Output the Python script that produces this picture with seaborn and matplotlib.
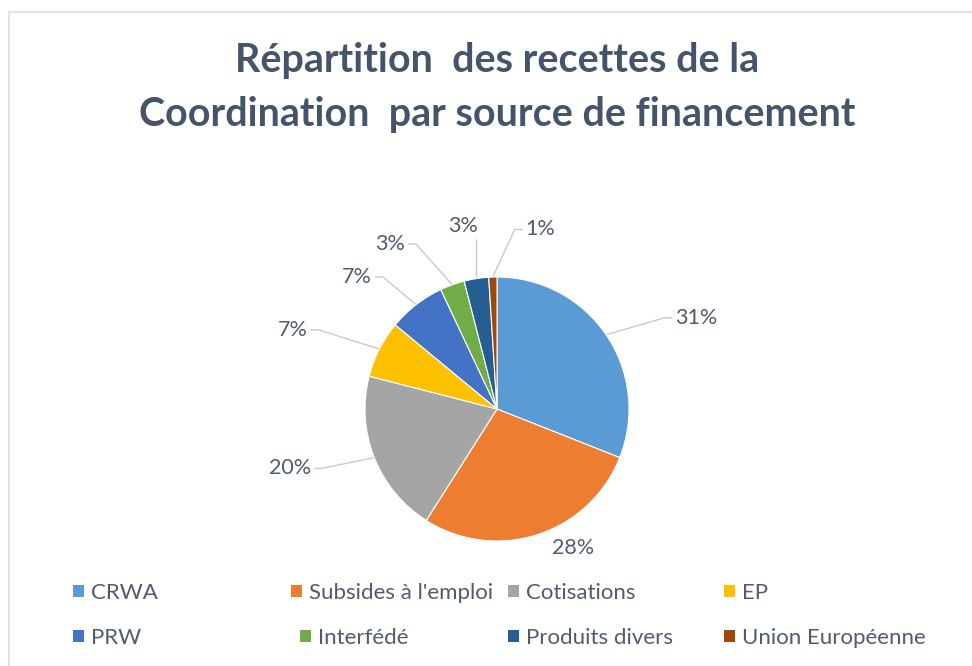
import matplotlib
matplotlib.use("Agg")
import matplotlib.pyplot as plt
from matplotlib.patches import Patch
from matplotlib.lines import Line2D
import numpy as np
import pandas as pd
import seaborn as sns

# ---------------- data ----------------
categories = ["CRWA", "Subsides à l'emploi", "Cotisations", "EP",
              "PRW", "Interfédé", "Produits divers", "Union Européenne"]
shares = [31, 28, 20, 7, 7, 3, 3, 1]
hex_colors = ["#5B9BD5", "#ED7D31", "#A5A5A5", "#FFC000",
              "#4472C4", "#70AD47", "#255E91", "#9E480E"]
title_lines = ["Répartition  des recettes de la",
               "Coordination  par source de financement"]

df = pd.DataFrame({"source": categories, "share": shares})
df["label"] = [f"{v}%" for v in df["share"]]

# ---------------- style ----------------
sns.set_theme(style="white")
plt.rcParams["font.family"] = ["Lato", "DejaVu Sans"]
palette = sns.color_palette(hex_colors)

W, H = 972, 666
fig = plt.figure(figsize=(W / 100, H / 100), dpi=100)
fig.patch.set_facecolor("white")
ax = fig.add_axes([0, 0, 1, 1])

# pixel-like layout coordinates (y up)
cx, cy, R = 497, 666 - 409, 132

wedges, _ = ax.pie(df["share"], colors=palette, startangle=90, counterclock=False,
                   center=(cx, cy), radius=R, frame=True,
                   wedgeprops=dict(edgecolor="white", linewidth=0.8))
ax.set_xlim(0, W)
ax.set_ylim(0, H)
ax.set_axis_off()

text_col = "#505C6C"
title_col = "#44546A"
line_col = "#C3CAD2"

# label offsets (in pie-radius units, from centre)
label_offsets = [(1.51, 0.69), (0.58, -1.05), (-1.57, -0.45), (-1.55, 0.60),
                 (-1.06, 1.00), (-0.81, 1.25), (-0.26, 1.39), (0.33, 1.36)]
leader = [True, False, True, True, True, True, True, True]

texts = []
for (ox, oy), lab in zip(label_offsets, df["label"]):
    t = ax.text(cx + ox * R, cy + oy * R, lab, ha="center", va="center",
                fontsize=15.5, color=text_col)
    texts.append(t)

# title
t1 = fig.text(497 / W, 1 - 72 / H, title_lines[0], ha="center", va="baseline",
              fontsize=22, fontweight="bold", color=title_col)
t2 = fig.text(497 / W, 1 - 126 / H, title_lines[1], ha="center", va="baseline",
              fontsize=22, fontweight="bold", color=title_col)

fig.canvas.draw()
renderer = fig.canvas.get_renderer()
# fit title width to reference (line 1 about 524 px)
w1 = t1.get_window_extent(renderer).width
fs = 22 * 524 / w1
t1.set_fontsize(fs)
t2.set_fontsize(fs)

fig.canvas.draw()
# leader lines
for w, t, use in zip(wedges, texts, leader):
    if not use:
        continue
    mid = np.deg2rad((w.theta1 + w.theta2) / 2)
    px, py = cx + R * np.cos(mid), cy + R * np.sin(mid)
    bb = t.get_window_extent(renderer)
    gap = 3
    if px < bb.x0:
        ax_, ay_ = bb.x0 - gap, (bb.y0 + bb.y1) / 2
        ex = ax_ - 8
        xs, ys = [px, ex, ax_], [py, ay_, ay_]
    elif px > bb.x1:
        ax_, ay_ = bb.x1 + gap, (bb.y0 + bb.y1) / 2
        ex = ax_ + 8
        xs, ys = [px, ex, ax_], [py, ay_, ay_]
    else:
        ax_ = min(max(px, bb.x0), bb.x1)
        ay_ = bb.y0 - gap
        xs, ys = [px, ax_], [py, ay_]
    ax.plot(xs, ys, color=line_col, lw=1.0, solid_capstyle="butt", zorder=0.5)

# legend: Excel-like fixed grid
leg_fs = 16
leg_x = [[73, 291, 508, 724], [73, 300, 508, 724]]
leg_y = [593, 638]
for i, (cat, colr) in enumerate(zip(df["source"], palette)):
    r, c = divmod(i, 4)
    fig.legend(handles=[Patch(facecolor=colr, edgecolor="none", label=cat)],
               loc="center left",
               bbox_to_anchor=(leg_x[r][c] / W, 1 - leg_y[r] / H),
               frameon=False, fontsize=leg_fs, labelcolor=text_col,
               handlelength=0.5, handleheight=0.5, handletextpad=0.33,
               borderpad=0, borderaxespad=0)

# chart-area border (top and left visible)
fig.add_artist(Line2D([8.5 / W, 8.5 / W], [0, 1 - 11.5 / H],
                      transform=fig.transFigure, color="#D9DDE2", lw=1.2))
fig.add_artist(Line2D([8.5 / W, 1], [1 - 11.5 / H, 1 - 11.5 / H],
                      transform=fig.transFigure, color="#D9DDE2", lw=1.2))

fig.savefig("out.png", dpi=100, facecolor="white")
